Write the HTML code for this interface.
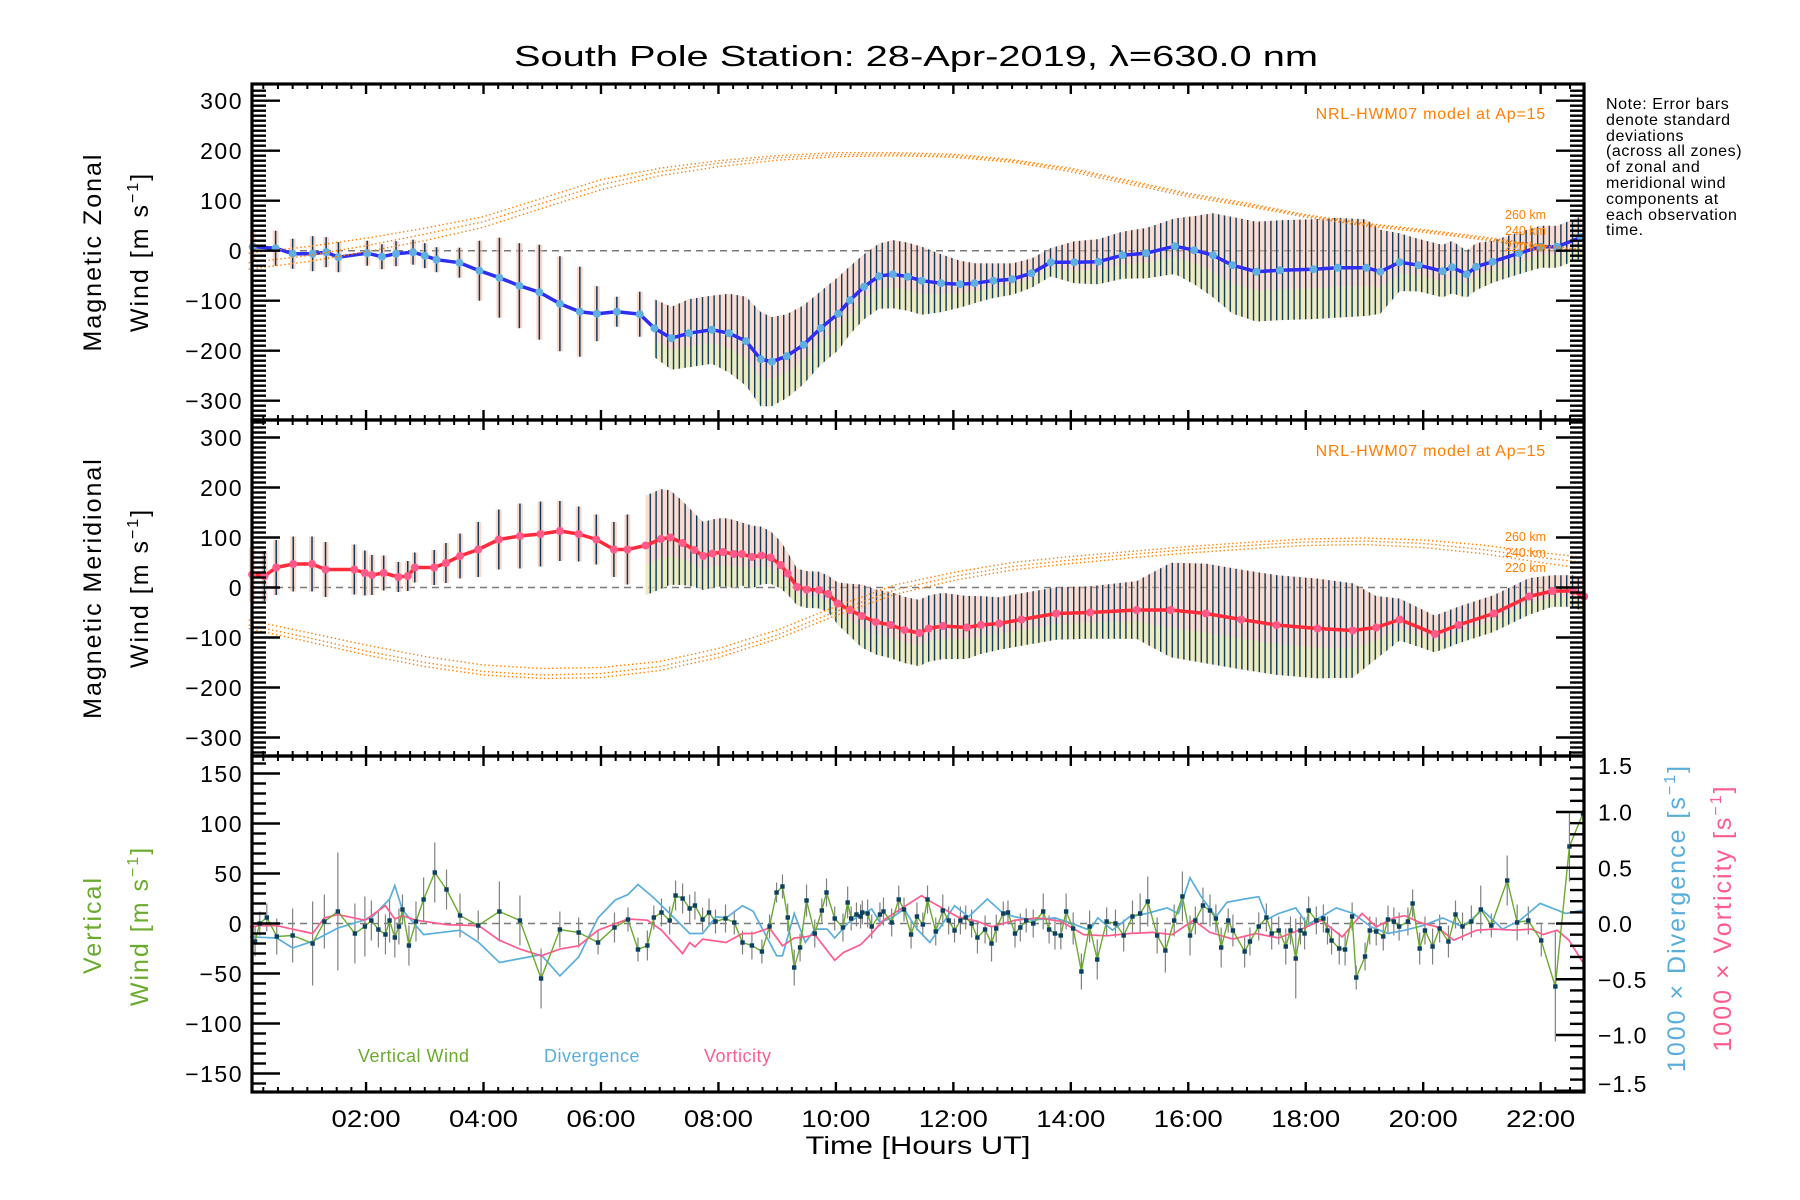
<!DOCTYPE html>
<html><head><meta charset="utf-8"><title>South Pole Station winds</title>
<style>
html,body{margin:0;padding:0;background:#fff;}
svg{display:block;font-family:"Liberation Sans",sans-serif;}
</style></head>
<body>
<svg id="chart" xmlns="http://www.w3.org/2000/svg" width="1800" height="1200" viewBox="0 0 1800 1200">
<defs>
<pattern id="stripes" patternUnits="userSpaceOnUse" width="5.8" height="10"><rect x="0" y="0" width="1.4" height="10" fill="#0b3a5c"/></pattern>
</defs>
<rect x="0" y="0" width="1800" height="1200" fill="#fff"/>
<text x="916" y="66" font-size="29" text-anchor="middle" textLength="804" lengthAdjust="spacingAndGlyphs">South Pole Station: 28-Apr-2019, λ=630.0 nm</text>
<g id="layer"></g>
</svg>
<script>
// ---------- data ----------
const zonalHours=[0.07,0.46,0.75,1.09,1.32,1.53,2.02,2.27,2.51,2.8,3.0,3.2,3.59,3.93,4.27,4.61,4.95,5.3,5.64,5.93,6.27,6.66,6.91,7.2,7.5,7.89,8.18,8.47,8.72,8.91,9.16,9.45,9.74,10.04,10.24,10.48,10.73,10.97,11.22,11.46,11.79,12.11,12.36,12.68,13.0,13.33,13.66,14.06,14.47,14.88,15.28,15.77,16.1,16.42,16.75,17.16,17.56,18.13,18.54,19.03,19.27,19.6,19.92,20.33,20.49,20.74,20.9,21.18,21.63,22.0,22.28,22.69];
const zonalMean=[8,5,-6,-6,-3,-13,-5,-12,-6,-3,-10,-18,-24,-40,-54,-70,-83,-106,-122,-126,-122,-127,-155,-175,-165,-158,-165,-181,-217,-222,-211,-188,-155,-126,-99,-72,-51,-47,-52,-60,-65,-67,-65,-60,-57,-45,-23,-23,-22,-9,-5,9,1,-9,-29,-42,-39,-37,-34,-34,-42,-23,-29,-41,-33,-47,-32,-22,-5,8,8,27];
const zonalStd=[30,35,30,35,30,30,25,25,25,25,25,25,30,60,80,85,95,95,90,55,30,45,55,60,65,65,75,85,90,85,80,75,70,70,65,62,62,65,65,65,55,45,38,33,30,28,27,40,43,45,48,53,65,80,92,95,95,95,95,92,80,55,50,50,50,45,45,40,40,40,40,40];

const meridHours=[0.06,0.27,0.47,0.76,1.08,1.31,1.8,1.98,2.1,2.3,2.55,2.71,2.83,3.16,3.36,3.6,3.91,4.26,4.62,4.97,5.3,5.62,5.92,6.22,6.45,6.76,7.02,7.18,7.39,7.59,7.74,7.9,8.08,8.26,8.4,8.57,8.73,8.89,9.06,9.18,9.34,9.5,9.71,9.87,10.03,10.24,10.44,10.68,10.93,11.17,11.42,11.58,11.82,12.23,12.47,12.78,13.16,13.75,14.33,15.12,15.7,16.3,16.9,17.5,18.2,18.8,19.2,19.6,20.2,20.6,21.2,21.8,22.2,22.55,22.74];
const meridMean=[26,23,40,47,47,36,36,29,25,29,21,23,40,40,49,63,76,96,103,107,113,107,96,76,76,84,97,100,89,75,63,68,71,67,67,61,64,60,45,28,1,-4,-5,-13,-32,-45,-57,-69,-75,-85,-91,-82,-77,-80,-75,-72,-64,-52,-50,-45,-45,-52,-64,-75,-82,-86,-80,-64,-93,-75,-52,-18,-7,-7,-18];
const meridStd=[55,50,55,55,55,55,50,45,40,35,30,30,30,35,40,45,55,60,65,65,60,55,50,55,70,95,95,90,80,70,65,65,65,65,60,60,55,50,45,40,35,35,35,35,40,50,60,62,63,63,63,63,63,60,55,50,50,50,50,55,90,95,95,95,95,90,60,40,35,35,35,35,30,30,30];

const modelHours=[0,1,2,3,4,5,6,7,8,9,10,11,12,13,14,15,16,17,18,19,20,21,22,22.74];
const zonalModel260=[-5,8,25,45,68,105,142,165,180,190,196,196,193,182,165,140,115,95,72,55,42,28,12,2];
const zonalModel240=[-24,-10,10,33,58,95,132,158,175,186,192,193,190,180,162,137,112,92,70,53,40,25,10,0];
const zonalModel220=[-37,-22,-2,20,47,85,122,150,168,181,188,190,187,177,158,133,108,89,67,50,37,22,7,-3];
const meridModel260=[-65,-90,-115,-138,-155,-162,-160,-148,-122,-85,-38,5,30,50,62,72,82,90,97,99,95,85,70,60];
const meridModel240=[-75,-100,-127,-150,-168,-175,-172,-158,-132,-95,-48,-5,22,42,55,66,76,84,91,93,88,76,60,50];
const meridModel220=[-82,-108,-135,-158,-175,-182,-180,-166,-140,-103,-56,-14,14,35,48,59,69,77,84,86,80,68,50,38];

const vertHours=[0.11,0.19,0.31,0.48,0.75,1.09,1.29,1.52,1.81,1.98,2.09,2.21,2.33,2.40,2.49,2.56,2.62,2.73,2.85,2.98,3.17,3.37,3.60,3.91,4.27,4.62,4.98,5.30,5.62,5.95,6.23,6.46,6.63,6.79,6.90,7.03,7.17,7.27,7.39,7.51,7.60,7.73,7.84,7.95,8.12,8.27,8.41,8.57,8.74,8.87,8.99,9.09,9.18,9.29,9.39,9.50,9.64,9.76,9.84,9.98,10.12,10.20,10.26,10.35,10.42,10.45,10.54,10.61,10.75,10.81,10.95,11.07,11.16,11.28,11.38,11.48,11.56,
11.70,11.82,11.92,12.02,12.12,12.21,12.31,12.41,12.54,12.65,12.73,12.85,12.93,13.05,13.14,13.24,13.36,13.53,13.63,13.73,13.83,13.92,14.04,14.18,14.32,14.45,14.61,14.76,14.90,15.05,15.18,15.31,15.47,15.61,15.76,15.90,16.03,16.12,16.25,16.37,16.47,16.56,16.68,16.76,16.96,17.05,17.20,17.33,17.42,17.54,17.66,17.74,17.83,17.91,17.98,18.05,18.18,18.30,18.37,18.44,18.57,18.67,18.79,18.86,19.01,19.09,19.20,19.32,19.40,19.50,19.59,19.74,19.82,19.94,20.03,20.16,20.28,20.43,20.55,20.67,20.82,20.98,21.16,21.43,21.60,21.79,22.01,22.25,22.49,22.72];
const vertWind=[-18,0,6,-13,-12,-20,2,12,-10,-3,3,-6,-11,3,-14,-3,14,-22,2,24,51,34,8,-2,12,3,-55,-6,-9,-19,-4,4,-26,-22,6,11,3,28,25,15,18,4,11,2,5,1,-19,-22,-28,-3,31,37,6,-44,-24,23,-10,13,31,5,-4,21,5,9,7,11,10,-3,9,12,1,24,14,-11,7,-1,24,
-8,13,3,-7,3,6,0,-14,-6,-20,-5,10,11,-10,-4,3,0,12,-6,-10,-12,12,-5,-48,-3,-36,2,0,-12,7,10,22,-12,-27,3,27,-12,3,18,13,5,-24,3,-7,-28,-18,-3,6,-10,-7,-23,-7,-35,-7,-10,13,3,5,-7,-17,-25,-26,7,-54,-33,-7,-8,-13,4,2,-3,2,20,-25,-7,-23,-5,-18,9,-3,2,14,-2,43,1,3,-17,-63,77,110];
const vertStd=[15,12,14,18,27,42,27,59,30,30,20,18,20,22,20,18,15,20,20,22,30,20,22,15,30,25,30,18,15,12,15,12,12,15,12,14,14,15,15,14,14,12,14,12,14,12,12,14,12,12,10,12,14,18,14,16,14,12,14,12,14,16,12,12,12,12,14,12,12,14,14,14,12,14,14,12,14,
14,16,14,12,14,12,14,16,14,18,14,12,12,14,14,12,14,18,14,16,14,18,16,18,16,20,14,14,16,16,20,25,18,22,16,25,20,14,18,16,14,20,12,16,16,14,14,14,16,14,18,14,40,14,16,14,14,14,14,14,16,16,14,12,14,14,14,14,14,14,14,14,14,16,14,18,14,16,14,14,16,24,12,25,18,14,16,55,35,30];

const divHours=[0.02,0.48,0.75,1.09,1.52,2.09,2.4,2.49,2.62,2.98,3.6,3.92,4.27,4.98,5.3,5.62,5.95,6.24,6.46,6.63,6.9,7.17,7.51,7.73,7.96,8.13,8.41,8.59,8.99,9.09,9.29,9.48,9.64,9.85,9.98,10.2,10.42,10.61,10.75,10.95,11.16,11.28,11.4,11.6,11.82,12.02,12.26,12.58,12.85,13.05,13.34,13.73,14.02,14.32,14.46,14.71,15.0,15.29,15.64,15.83,16.03,16.22,16.47,16.66,16.96,17.2,17.35,17.54,17.83,18.03,18.23,18.52,18.81,19.11,19.4,19.69,19.99,20.33,20.67,21.01,21.35,21.65,21.99,22.43,22.72];
const divergence=[-0.12,-0.13,-0.22,-0.16,-0.04,0.05,0.22,0.34,0.12,-0.10,-0.06,-0.17,-0.35,-0.28,-0.47,-0.30,0.05,0.21,0.26,0.35,0.23,0.09,-0.09,-0.09,0.06,0.05,0.16,0.11,-0.29,-0.29,0.09,-0.17,-0.05,-0.05,-0.13,0,0.08,0.13,0.01,0.05,0.13,0.03,-0.06,-0.17,0,0.16,0.06,0.22,0.09,0.06,0.03,0.05,0,-0.06,0.05,-0.06,0.06,0.09,0.14,0.09,0.41,0.24,0.06,0.19,0.22,0.24,0.04,0.09,0.14,-0.01,0.05,0.14,0.09,-0.03,-0.09,-0.06,-0.02,0.05,-0.03,0.12,-0.05,0.03,0.18,0.09,0.12];

const vortHours=[0.02,0.19,0.48,1.09,1.29,1.52,1.98,2.33,2.49,2.62,2.85,3.37,3.92,4.27,4.62,4.98,5.3,5.62,5.95,6.46,6.79,7.03,7.39,7.51,7.6,7.73,8.13,8.41,8.59,8.87,9.09,9.29,9.48,9.64,9.98,10.13,10.42,10.61,10.81,11.16,11.46,11.6,11.77,12.07,12.41,12.65,13.05,13.44,13.83,14.22,14.61,15.0,15.39,15.73,16.09,16.37,16.76,17.15,17.54,17.93,18.27,18.62,18.96,19.2,19.5,19.69,19.94,20.23,20.52,20.91,21.21,21.55,21.84,22.04,22.28,22.48,22.72];
const vorticity=[-0.03,-0.02,-0.02,-0.09,0.05,0.08,0.03,0.16,0.04,0.07,0.03,-0.01,-0.02,-0.15,-0.23,-0.29,-0.23,-0.2,-0.06,0.04,0.03,-0.06,-0.27,-0.17,-0.21,-0.14,-0.17,-0.09,-0.09,-0.04,-0.2,-0.13,-0.12,-0.1,-0.33,-0.26,-0.19,-0.09,0.03,0.15,0.25,0.2,0.15,0.06,0.02,-0.03,0.03,0.05,0.02,-0.1,-0.11,-0.09,-0.08,-0.1,0.03,-0.08,-0.14,-0.09,-0.13,-0.05,0.03,-0.12,0.09,-0.03,0.05,0.07,0.01,-0.03,-0.15,-0.06,-0.05,-0.06,-0.05,-0.1,-0.06,-0.15,-0.35];

const timeTickLabels=["02:00","04:00","06:00","08:00","10:00","12:00","14:00","16:00","18:00","20:00","22:00"];
const windTicks=[300,200,100,0,-100,-200,-300];
const vertTicks=[150,100,50,0,-50,-100,-150];
const rightTicks=[1.5,1.0,0.5,0.0,-0.5,-1.0,-1.5];

// ---------- scales ----------
const NS="http://www.w3.org/2000/svg";
const layer=document.getElementById("layer");
const L=252,R=1584;
function xs(h){return 248.6+h*58.73;}
const panels=[{top:84,bot:420,zero:250.7,k:0.5},{top:420,bot:756,zero:587.5,k:0.5},{top:756,bot:1092,zero:923.5,k:1.0}];
function ys(p,v){return panels[p].zero-v*panels[p].k;}
function yr(v){return 923.5-v*111.5;}
function el(tag,attrs,parent){const e=document.createElementNS(NS,tag);for(const k in attrs)e.setAttribute(k,attrs[k]);(parent||layer).appendChild(e);return e;}
function txt(str,attrs){const e=el("text",attrs);e.textContent=str;return e;}
function pts(hs,vs,f){return hs.map((h,i)=>xs(h).toFixed(1)+","+f(vs[i]).toFixed(1)).join(" ");}

// ---------- zero lines ----------
[0,1,2].forEach(p=>{
  const z=el("line",{x1:L,x2:R,y1:panels[p].zero,y2:panels[p].zero,stroke:"#7a7a7a","stroke-width":1.5,"stroke-dasharray":"7 5"});
  
  
});

// ---------- wind panels ----------
function windPanel(p,hs,mean,std,denseFrom,lineCol,dotCol,name){
  const f=v=>ys(p,v);
  const idx=hs.map((h,i)=>i).filter(i=>hs[i]>=denseFrom);
  const up=idx.map(i=>xs(hs[i]).toFixed(1)+","+f(mean[i]+std[i]*1.05).toFixed(1));
  const lo=idx.slice().reverse().map(i=>xs(hs[i]).toFixed(1)+","+f(mean[i]-std[i]*1.05).toFixed(1));
  const band=el("polygon",{points:up.concat(lo).join(" "),fill:"#f9b9a2","fill-opacity":0.5});
  
  
  const lo2=idx.slice().reverse().map(i=>xs(hs[i]).toFixed(1)+","+f(mean[i]-std[i]*1.05).toFixed(1));
  const mid=idx.map(i=>xs(hs[i]).toFixed(1)+","+f(mean[i]-std[i]*0.4).toFixed(1));
  const band2=el("polygon",{points:mid.concat(lo2).join(" "),fill:"#e4f5b8","fill-opacity":0.6});
  
  
  const bars=el("polygon",{points:up.concat(lo).join(" "),fill:"url(#stripes)"});
  
  
  hs.forEach((h,i)=>{
    if(h>=denseFrom)return;
    const r=el("rect",{x:xs(h)-3,y:f(mean[i]+std[i]),width:6,height:f(mean[i]-std[i])-f(mean[i]+std[i]),fill:"#f7c0a8","fill-opacity":0.6});
    
    
    const b=el("line",{x1:xs(h),x2:xs(h),y1:f(mean[i]+std[i]),y2:f(mean[i]-std[i]),stroke:"#0b3a5c","stroke-width":1.5});
    
    
  });
  const line=el("polyline",{points:pts(hs,mean,f),fill:"none",stroke:lineCol,"stroke-width":3.5,"stroke-linejoin":"round"});
  
  
  hs.forEach((h,i)=>{
    const c=el("circle",{cx:xs(h),cy:f(mean[i]),r:4,fill:dotCol});
    
    
  });
}
function modelLines(p,arrs,name){
  arrs.forEach(a=>{
    const m=el("polyline",{points:pts(modelHours,a,v=>ys(p,v)),fill:"none",stroke:"#ff7f00","stroke-width":1.4,"stroke-dasharray":"1.4 2.6"});
    
    
  });
}
windPanel(0,zonalHours,zonalMean,zonalStd,6.8,"#2e2ef5","#5fb0e0","zonal");
modelLines(0,[zonalModel260,zonalModel240,zonalModel220],"zonal-hwm07-model");
windPanel(1,meridHours,meridMean,meridStd,6.6,"#ff2a3a","#ff5a8a","meridional");
modelLines(1,[meridModel260,meridModel240,meridModel220],"meridional-hwm07-model");

// ---------- vertical panel ----------
vertHours.forEach((h,i)=>{
  const s=vertStd[i]||15;
  const b=el("line",{x1:xs(h),x2:xs(h),y1:ys(2,vertWind[i]+s),y2:ys(2,vertWind[i]-s),stroke:"#808080","stroke-width":1.2});
  
  
});
const divLine=el("polyline",{points:pts(divHours,divergence,yr),fill:"none",stroke:"#5aaedc","stroke-width":1.7});


const vortLine=el("polyline",{points:pts(vortHours,vorticity,yr),fill:"none",stroke:"#ff5c8e","stroke-width":1.7});


const vLine=el("polyline",{points:pts(vertHours,vertWind,v=>ys(2,v)),fill:"none",stroke:"#6aab2e","stroke-width":1.4});


vertHours.forEach((h,i)=>{
  const d=el("rect",{x:xs(h)-2.2,y:ys(2,vertWind[i])-2.2,width:4.4,height:4.4,fill:"#0b4060"});
  
  
});

// ---------- axes ----------
panels.forEach((P,p)=>{
  const fr=el("rect",{x:L,y:P.top,width:R-L,height:P.bot-P.top,fill:"none",stroke:"#000","stroke-width":3.2});
  
  
  for(let q=1;q<=91;q++){
    const h=q*0.25; if(xs(h)>=R)break;
    const major=(q%8===0); const len=major?10:5;
    const t1=el("line",{x1:xs(h),x2:xs(h),y1:P.bot,y2:P.bot-len,stroke:"#000","stroke-width":major?2.4:2});
    
    
    const t2=el("line",{x1:xs(h),x2:xs(h),y1:P.top,y2:P.top+len,stroke:"#000","stroke-width":major?2.4:2});
    
    
  }
  const range=p<2?[-330,330,10,100]:[-160,160,10,50];
  for(let v=range[0];v<=range[1];v+=range[2]){
    const y=ys(p,v); if(y<P.top+2||y>P.bot-2)continue;
    const major=(v%range[3]===0); const len=major?28:14;
    const a=el("line",{x1:L,x2:L+len,y1:y,y2:y,stroke:"#000","stroke-width":2.4});
    
    
    if(p<2){
      const b=el("line",{x1:R,x2:R-len,y1:y,y2:y,stroke:"#000","stroke-width":2.4});
      
      
    }
  }
  const labs=p<2?windTicks:vertTicks;
  labs.forEach(v=>{
    const t=txt(String(v).replace("-","\u2212"),{x:243,y:ys(p,v)+8.5,"font-size":23,"text-anchor":"end","letter-spacing":1.5});
    
    
  });
});
for(let v=-1.5;v<=1.501;v+=0.1){
  const y=yr(v); const major=Math.abs(Math.round(v*10))%5===0; const len=major?28:14;
  if(y<757||y>1091)continue;
  const a=el("line",{x1:R,x2:R-len,y1:y,y2:y,stroke:"#000","stroke-width":2.4});
  
  
}
rightTicks.forEach(v=>{
  let yy=yr(v)+8.5;
  if(v>=1.5)yy=774; if(v<=-1.5)yy=1092;
  const t=txt(v.toFixed(1).replace("-","\u2212"),{x:1598,y:yy,"font-size":23,"letter-spacing":1});
  
  
});
timeTickLabels.forEach((s,i)=>{
  const t=txt(s,{x:xs(2+2*i),y:1127,"font-size":24,"text-anchor":"middle",textLength:69,lengthAdjust:"spacingAndGlyphs"});
  
  
});
</script>
<div style="position:absolute;left:0;top:0;width:1800px;height:1200px;pointer-events:none">
<svg xmlns="http://www.w3.org/2000/svg" width="1800" height="1200" style="font-family:'Liberation Sans',sans-serif">
<text x="918" y="1154" font-size="25" text-anchor="middle" textLength="225" lengthAdjust="spacingAndGlyphs">Time [Hours UT]</text>
<text transform="translate(101,252) rotate(-90)" font-size="25" text-anchor="middle" letter-spacing="2">Magnetic Zonal</text>
<text transform="translate(148,252) rotate(-90)" font-size="25" text-anchor="middle" letter-spacing="2">Wind [m s<tspan dy="-10" font-size="16">−1</tspan><tspan dy="10">]</tspan></text>
<text transform="translate(101,588) rotate(-90)" font-size="25" text-anchor="middle" letter-spacing="2">Magnetic Meridional</text>
<text transform="translate(148,588) rotate(-90)" font-size="25" text-anchor="middle" letter-spacing="2">Wind [m s<tspan dy="-10" font-size="16">−1</tspan><tspan dy="10">]</tspan></text>
<text transform="translate(101,925) rotate(-90)" font-size="25" text-anchor="middle" letter-spacing="2" fill="#6aab2e">Vertical</text>
<text transform="translate(148,926) rotate(-90)" font-size="25" text-anchor="middle" letter-spacing="2" fill="#6aab2e">Wind [m s<tspan dy="-10" font-size="16">−1</tspan><tspan dy="10">]</tspan></text>
<text transform="translate(1685,918) rotate(-90)" font-size="25" text-anchor="middle" letter-spacing="2" fill="#5aaedc">1000 × Divergence [s<tspan dy="-10" font-size="16">−1</tspan><tspan dy="10">]</tspan></text>
<text transform="translate(1731,918) rotate(-90)" font-size="25" text-anchor="middle" letter-spacing="2" fill="#ff5c8e">1000 × Vorticity [s<tspan dy="-10" font-size="16">−1</tspan><tspan dy="10">]</tspan></text>
<text x="1546" y="119" font-size="16" text-anchor="end" fill="#ff7f00" letter-spacing="0.8">NRL-HWM07 model at Ap=15</text>
<text x="1546" y="456" font-size="16" text-anchor="end" fill="#ff7f00" letter-spacing="0.8">NRL-HWM07 model at Ap=15</text>
<g font-size="12.5" fill="#ff7f00" text-anchor="end">
<text x="1546" y="219">260 km</text>
<text x="1546" y="235">240 km</text>
<text x="1546" y="251">220 km</text>
</g>
<g font-size="12.5" fill="#ff7f00" text-anchor="end">
<text x="1546" y="541">260 km</text>
<text x="1546" y="557">240 km</text>
<text x="1546" y="572">220 km</text>
</g>
<g font-size="16" letter-spacing="0.6">
<text x="1606" y="109">Note: Error bars</text>
<text x="1606" y="125">denote standard</text>
<text x="1606" y="141">deviations</text>
<text x="1606" y="156">(across all zones)</text>
<text x="1606" y="172">of zonal and</text>
<text x="1606" y="188">meridional wind</text>
<text x="1606" y="204">components at</text>
<text x="1606" y="220">each observation</text>
<text x="1606" y="235">time.</text>
</g>
<text x="358" y="1062" font-size="18" fill="#6aab2e" letter-spacing="0.5">Vertical Wind</text>
<text x="544" y="1062" font-size="18" fill="#5aaedc" letter-spacing="0.5">Divergence</text>
<text x="704" y="1062" font-size="18" fill="#ff5c8e" letter-spacing="0.5">Vorticity</text>
</svg>
</div>
</body></html>
